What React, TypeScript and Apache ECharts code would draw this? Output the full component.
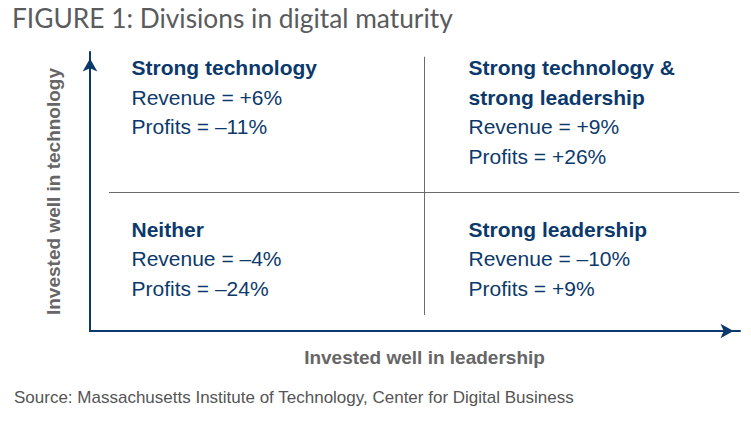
import React, { useEffect, useRef } from "react";
import * as echarts from "echarts";

const titleText = "FIGURE 1: Divisions in digital maturity";
const sourceText = "Source: Massachusetts Institute of Technology, Center for Digital Business";
const xAxisTitle = "Invested well in leadership";
const yAxisTitle = "Invested well in technology";

const quadrantHeads = [
  ["Strong technology"],
  ["Strong technology &", "strong leadership"],
  ["Neither"],
  ["Strong leadership"],
];
const revenue = ["+6%", "+9%", "–4%", "–10%"];
const profits = ["–11%", "+26%", "–24%", "+9%"];
const quadX = [6.46, 58.31, 6.46, 58.31];
const quadY = [99.55, 99.55, 41.6, 41.6];

const vDividerX = 51.43;
const vDividerY = [5.73, 98.3];
const hDividerY = 49.57;
const hDividerX = [2.92, 99.9];

const NAVY = "#0c396b";
const GRAY = "#6b6b6b";
const FONT = "'Liberation Sans', Arial, sans-serif";

export default function App() {
  const ref = useRef<HTMLDivElement>(null);
  useEffect(() => {
    document.body.style.margin = "0";
    if (!ref.current) return;
    const chart = echarts.init(ref.current, null, { renderer: "svg" });
    const data = quadrantHeads.map((h, i) => ({
      value: [quadX[i], quadY[i]],
      idx: i,
    }));
    chart.setOption({
      animation: false,
      backgroundColor: "#ffffff",
      title: {
        text: titleText,
        left: 7,
        top: 0,
        textStyle: {
          fontFamily: "Lato, sans-serif",
          fontWeight: 400,
          fontSize: 26.3,
          color: "#5a5b5d",
        },
      },
      grid: { left: 90, right: 11, top: 52, bottom: 94 },
      xAxis: {
        type: "value",
        min: 0,
        max: 100,
        name: xAxisTitle,
        nameLocation: "middle",
        nameGap: 17,
        nameTextStyle: {
          fontFamily: FONT,
          fontWeight: "bold",
          fontSize: 19,
          color: "#666666",
          padding: [0, 0, 0, 19],
        },
        axisLine: {
          show: true,
          symbol: ["none", "arrow"],
          symbolSize: [11, 13],
          symbolOffset: [0, -6.5],
          lineStyle: { color: NAVY, width: 2 },
        },
        axisTick: { show: false },
        axisLabel: { show: false },
        splitLine: { show: false },
      },
      yAxis: {
        type: "value",
        min: 0,
        max: 100,
        name: yAxisTitle,
        nameLocation: "middle",
        nameGap: 27,
        nameTextStyle: {
          fontFamily: FONT,
          fontWeight: "bold",
          fontSize: 19,
          color: "#666666",
        },
        axisLine: {
          show: true,
          symbol: ["none", "arrow"],
          symbolSize: [11, 13],
          symbolOffset: [0, -6.5],
          lineStyle: { color: NAVY, width: 2 },
        },
        axisTick: { show: false },
        axisLabel: { show: false },
        splitLine: { show: false },
      },
      graphic: [
        {
          type: "text",
          left: 14,
          top: 389,
          style: {
            text: sourceText,
            fontFamily: FONT,
            fontSize: 17,
            fill: "#555555",
          },
        },
      ],
      series: [
        {
          type: "scatter",
          clip: false,
          silent: true,
          symbol: "circle",
          symbolSize: 1,
          itemStyle: { color: "rgba(0,0,0,0)", opacity: 1 },
          data,
          label: {
            show: true,
            position: [0, 0],
            align: "left",
            verticalAlign: "top",
            formatter: (p: any) => {
              const i = p.data.idx;
              const heads = quadrantHeads[i].map((h) => `{h|${h}}`).join("\n");
              return `${heads}\n{v|Revenue = ${revenue[i]}}\n{v|Profits = ${profits[i]}}`;
            },
            rich: {
              h: {
                fontFamily: FONT,
                fontWeight: "bold",
                fontSize: 21,
                lineHeight: 29.5,
                color: NAVY,
              },
              v: {
                fontFamily: FONT,
                fontSize: 21,
                lineHeight: 29.5,
                color: NAVY,
              },
            },
          },
          markLine: {
            silent: true,
            symbol: "none",
            label: { show: false },
            lineStyle: { color: GRAY, width: 1, type: "solid", opacity: 1 },
            data: [
              [
                { coord: [vDividerX, vDividerY[0]] },
                { coord: [vDividerX, vDividerY[1]] },
              ],
              [
                { coord: [hDividerX[0], hDividerY] },
                { coord: [hDividerX[1], hDividerY] },
              ],
            ],
          },
        },
      ],
    });
    return () => chart.dispose();
  }, []);
  return <div ref={ref} style={{ width: 751, height: 425 }} />;
}
